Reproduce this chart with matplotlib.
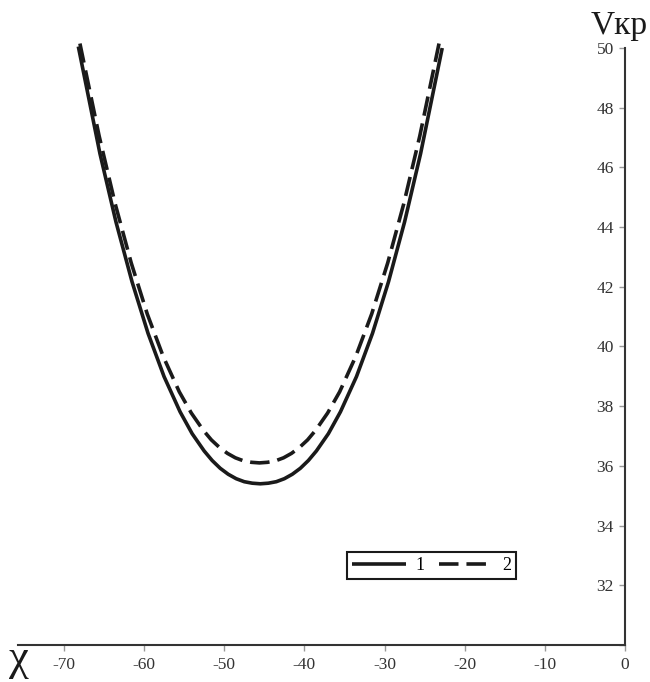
import matplotlib
matplotlib.use("Agg")
import matplotlib.pyplot as plt

# curve 1 (solid)
x1 = [-68.2, -65.5, -63.5, -61.5, -59.5, -57.5, -55.5, -54.0, -52.5, -51.5, -50.5, -49.5, -48.5,
      -47.5, -46.5, -45.5, -44.5, -43.5, -42.5, -41.5, -40.5, -39.5, -38.5, -37.0, -35.5,
      -33.5, -31.5, -29.5, -27.5, -25.5, -22.8]
y1 = [50.05, 46.46, 44.17, 42.17, 40.44, 38.99, 37.81, 37.08, 36.50, 36.18, 35.92, 35.72, 35.57,
      35.47, 35.42, 35.40, 35.42, 35.47, 35.57, 35.72, 35.92, 36.18, 36.50, 37.08, 37.81,
      38.99, 40.44, 42.17, 44.17, 46.46, 50.00]

# curve 2 (dashed)
x2 = [-68.0, -65.6, -63.6, -61.6, -59.6, -57.6, -55.6, -54.1, -52.6, -51.6, -50.6, -49.6, -48.6,
      -47.6, -46.6, -45.6, -44.6, -43.6, -42.6, -41.6, -40.6, -39.6, -38.6, -37.1, -35.6,
      -33.6, -31.6, -29.6, -27.6, -25.6, -23.2]
y2 = [50.15, 47.05, 44.78, 42.80, 41.09, 39.66, 38.48, 37.77, 37.19, 36.87, 36.62, 36.42, 36.27,
      36.17, 36.12, 36.10, 36.12, 36.17, 36.27, 36.42, 36.62, 36.87, 37.19, 37.77, 38.48,
      39.66, 41.09, 42.80, 44.78, 47.05, 50.15]

xticks = [-70, -60, -50, -40, -30, -20, -10, 0]
yticks = [30, 32, 34, 36, 38, 40, 42, 44, 46, 48, 50]
ylabels = ['' if v == 30 else str(v) for v in yticks]

plt.rcParams['font.family'] = ['Liberation Serif', 'DejaVu Serif']

fig = plt.figure(figsize=(6.5, 6.82), dpi=100)
ax = fig.add_axes([0.028, 0.0543, 0.9335, 0.8753])

ax.plot(x1, y1, color='#1a1a1a', lw=2.6, solid_capstyle='butt', solid_joinstyle='round',
        clip_on=False, label='1')
ax.plot(x2, y2, color='#1a1a1a', lw=2.6, dashes=(5.4, 2.2), dash_capstyle='butt',
        dash_joinstyle='round', clip_on=False, label='2')

ax.set_xlim(-75.7, 0)
ax.set_ylim(30, 50)

ax.spines['top'].set_visible(False)
ax.spines['right'].set_visible(False)
ax.spines['left'].set_position(('data', 0))
for s in ('left', 'bottom'):
    ax.spines[s].set_color('#333333')
    ax.spines[s].set_linewidth(1.5)

ax.set_xticks(xticks)
ax.set_xticklabels([str(v) for v in xticks])
ax.set_yticks(yticks)
ax.set_yticklabels(ylabels)
ax.tick_params(axis='both', colors='#999999', labelcolor='#333333', length=4, width=1,
               labelsize=12.5)
ax.tick_params(axis='x', pad=5)
ax.tick_params(axis='y', pad=4)

leg = ax.legend(loc='center', bbox_to_anchor=(0.681, 0.133), ncol=2, frameon=True,
                fancybox=False, edgecolor='#1a1a1a', framealpha=1, fontsize=13,
                handlelength=3.0, columnspacing=0.8, handletextpad=0.5,
                borderpad=0.3)
leg.get_frame().set_linewidth(1.5)

fig.text(591 / 650, 1 - 34 / 682, 'Vкр', fontsize=24, color='#1a1a1a',
         ha='left', va='baseline')
fig.text(9 / 650, 1 - 670 / 682, 'χ', fontsize=32, color='#1a1a1a',
         ha='left', va='baseline')

fig.savefig('out.png', dpi=100)
